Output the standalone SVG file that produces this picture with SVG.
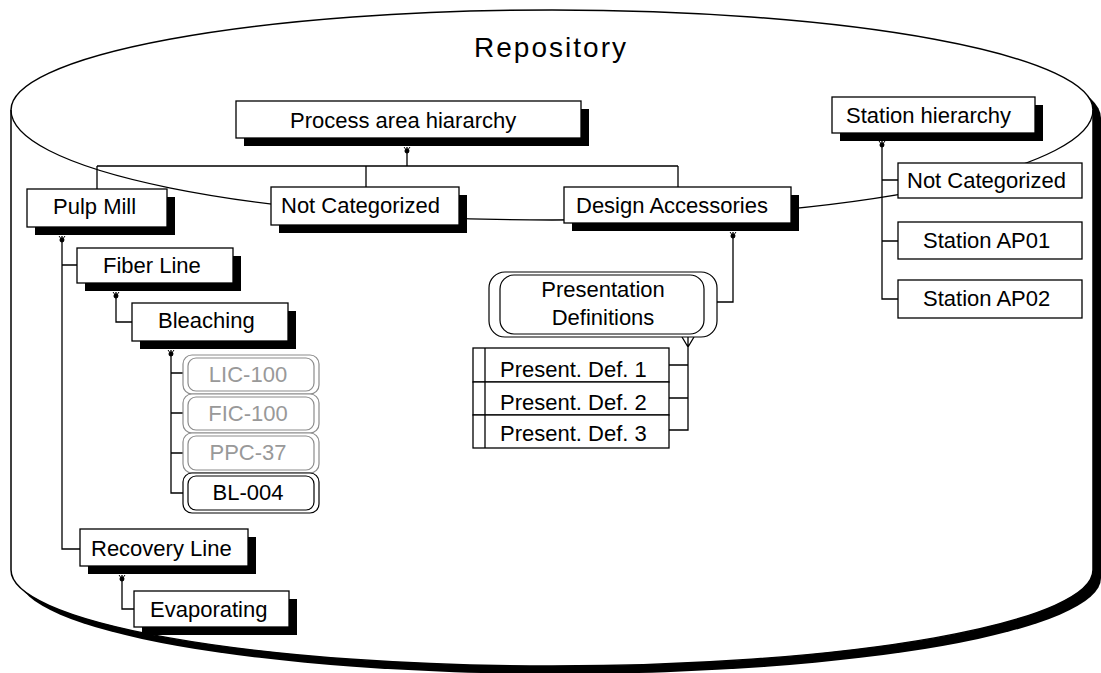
<svg xmlns="http://www.w3.org/2000/svg" width="1101" height="673" viewBox="0 0 1101 673">
<style>
 text{font-family:"Liberation Sans",Arial,sans-serif;font-size:22px;fill:#000}
 text.title{font-size:28px}
 .box{fill:#fff;stroke:#000;stroke-width:1.3}
 .sh{fill:#000}
 .ln{fill:none;stroke:#000;stroke-width:1.3}
 .g{fill:#fff;stroke:#8c8c8c;stroke-width:1.2}
 .gt{fill:#999}
 .k{fill:#fff;stroke:#000;stroke-width:1.2}
 .mid{text-anchor:middle}
</style>
<defs>
 <g id="tk"><path d="M-3,0 L0,4 L3,0" fill="none" stroke="#000" stroke-width="1"/><circle cx="0" cy="4" r="1.8" fill="#000"/></g>
 <path id="cyl" d="M11,110 A541,100 0 0 1 1093,110 L1093,570 A541,96 0 0 1 11,570 Z"/>
</defs>
<rect width="1101" height="673" fill="#fff"/>
<g id="repository">
 <use href="#cyl" transform="translate(8,8)" fill="#000"/>
 <use href="#cyl" fill="#fff" stroke="#000" stroke-width="1.5"/>
 <path d="M11,110 A541,110 0 0 0 1093,110" fill="none" stroke="#000" stroke-width="1.3"/>
 <text class="title mid" x="550" y="57" textLength="152" lengthAdjust="spacing">Repository</text>
</g>
<g id="connectors" class="ln">
 <path d="M407,147 V166 M97,166 H678 M97,166 V189 M366,166 V187 M678,166 V187"/>
 <path d="M62,236 V549 H80 M62,265 H77"/>
 <path d="M116,292 V322 H132"/>
 <path d="M171,350 V493 H183 M171,373 H183 M171,413 H183 M171,453 H183"/>
 <path d="M122,575 V609 H134"/>
 <path d="M733,232 V302 H717"/>
 <path d="M688,337 V430 H669 M669,365 H688 M669,398 H688 M682,337 L688,347 L694,337"/>
 <path d="M882,141 V299 H898 M882,180 H898 M882,241 H898"/>
 <use href="#tk" x="407" y="147"/>
 <use href="#tk" x="62" y="236"/>
 <use href="#tk" x="116" y="292"/>
 <use href="#tk" x="171" y="350"/>
 <use href="#tk" x="122" y="575"/>
 <use href="#tk" x="733" y="232"/>
 <use href="#tk" x="882" y="141"/>
</g>
<g id="process-area-hierarchy"><rect class="sh" x="244" y="109" width="345" height="37"/><rect class="box" x="236" y="101" width="345" height="37"/><text x="290" y="128">Process area hiararchy</text></g>
<g id="not-categorized-1"><rect class="sh" x="279" y="195" width="188" height="38"/><rect class="box" x="271" y="187" width="188" height="38"/><text x="281" y="213">Not Categorized</text></g>
<g id="design-accessories"><rect class="sh" x="572" y="195" width="227" height="36"/><rect class="box" x="564" y="187" width="227" height="36"/><text x="576" y="213">Design Accessories</text></g>
<g id="station-hierarchy"><rect class="sh" x="840" y="105" width="203" height="36"/><rect class="box" x="832" y="97" width="203" height="36"/><text x="846" y="123">Station hierarchy</text></g>
<g id="not-categorized-2"><rect class="box" x="898" y="163" width="184" height="35"/><text x="907" y="188">Not Categorized</text></g>
<g id="station-ap01"><rect class="box" x="898" y="222" width="184" height="37"/><text x="923" y="248">Station AP01</text></g>
<g id="station-ap02"><rect class="box" x="898" y="280" width="184" height="38"/><text x="923" y="306">Station AP02</text></g>
<g id="pulp-mill"><rect class="sh" x="35" y="197" width="140" height="38"/><rect class="box" x="27" y="189" width="140" height="38"/><text x="53" y="214">Pulp Mill</text></g>
<g id="fiber-line"><rect class="sh" x="85" y="256" width="156" height="35"/><rect class="box" x="77" y="248" width="156" height="35"/><text x="103" y="273">Fiber Line</text></g>
<g id="bleaching"><rect class="sh" x="140" y="311" width="156" height="38"/><rect class="box" x="132" y="303" width="156" height="38"/><text x="158" y="328">Bleaching</text></g>
<g id="lic-100"><rect class="g" x="183" y="355" width="136" height="39" rx="9"/><rect class="g" x="188" y="358" width="126" height="33" rx="8"/><text class="gt mid" x="248" y="382">LIC-100</text></g>
<g id="fic-100"><rect class="g" x="183" y="394" width="136" height="39" rx="9"/><rect class="g" x="188" y="397" width="126" height="33" rx="8"/><text class="gt mid" x="248" y="421">FIC-100</text></g>
<g id="ppc-37"><rect class="g" x="183" y="433" width="136" height="40" rx="9"/><rect class="g" x="188" y="436" width="126" height="34" rx="8"/><text class="gt mid" x="248" y="460">PPC-37</text></g>
<g id="bl-004"><rect class="k" x="183" y="473" width="136" height="40" rx="9"/><rect class="k" x="188" y="476" width="126" height="34" rx="8"/><text class="mid" x="248" y="500">BL-004</text></g>
<g id="recovery-line"><rect class="sh" x="88" y="537" width="168" height="37"/><rect class="box" x="80" y="529" width="168" height="37"/><text x="91" y="556">Recovery Line</text></g>
<g id="evaporating"><rect class="sh" x="142" y="599" width="155" height="36"/><rect class="box" x="134" y="591" width="155" height="36"/><text x="150" y="617">Evaporating</text></g>
<g id="presentation-definitions"><rect class="k" x="489" y="272" width="228" height="65" rx="16"/><rect class="k" x="500" y="275" width="204" height="59" rx="14"/><text class="mid" x="603" y="297">Presentation</text><text class="mid" x="603" y="325">Definitions</text></g>
<g id="present-def-1"><rect class="box" x="473" y="348" width="196" height="34" stroke-width="2"/><path d="M485,348 V382" class="ln"/><text x="500" y="377">Present. Def. 1</text></g>
<g id="present-def-2"><rect class="box" x="473" y="382" width="196" height="33" stroke-width="2"/><path d="M485,382 V415" class="ln"/><text x="500" y="410">Present. Def. 2</text></g>
<g id="present-def-3"><rect class="box" x="473" y="415" width="196" height="33" stroke-width="2"/><path d="M485,415 V448" class="ln"/><text x="500" y="441">Present. Def. 3</text></g>
</svg>
